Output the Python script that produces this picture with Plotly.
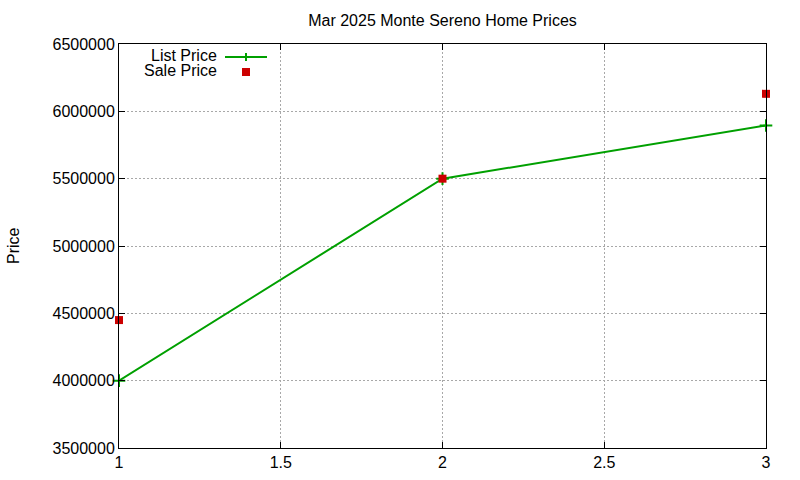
import plotly.graph_objects as go

# Data
months = [1, 2, 3]
list_price = [4000000, 5500000, 5895000]
sale_price = [4450000, 5500000, 6130000]
x_ticks = [1, 1.5, 2, 2.5, 3]
y_ticks = [3500000, 4000000, 4500000, 5000000, 5500000, 6000000, 6500000]

title_text = "Mar 2025 Monte Sereno Home Prices"
green = "#00a000"
red = "#cc0000"
FONT = "Liberation Sans, Arial, sans-serif"
FS = 16

W, H = 800, 480
L, R, T, B = 119, 800 - 766, 44, 480 - 448
pw, ph = W - L - R, H - T - B


def px(x):
    """window pixel x -> paper x"""
    return (x - L) / pw


def py(y):
    """window pixel y -> paper y"""
    return (H - B - y) / ph


fig = go.Figure()
fig.add_trace(go.Scatter(
    x=months, y=list_price, mode="lines+markers", name="List Price",
    line=dict(color=green, width=2),
    marker=dict(symbol="cross-thin", size=9, line=dict(color=green, width=2)),
    cliponaxis=False, showlegend=False,
))
fig.add_trace(go.Scatter(
    x=months, y=sale_price, mode="markers", name="Sale Price",
    marker=dict(symbol="square", size=8, color=red),
    cliponaxis=False, showlegend=False,
))

axis_common = dict(
    showline=True, linecolor="black", linewidth=1, mirror="ticks",
    ticks="inside", ticklen=6, tickcolor="black", tickwidth=1,
    showgrid=True, gridcolor="#a8a8a8", griddash="2px,2px", gridwidth=1,
    zeroline=False, tickfont=dict(family=FONT, size=FS, color="black"),
    automargin=False,
)

fig.update_xaxes(range=[1, 3], tickvals=x_ticks, ticktext=[str(v) for v in x_ticks], **axis_common)
fig.update_yaxes(range=[3500000, 6500000], tickvals=y_ticks, ticktext=[str(v) for v in y_ticks],
                 **axis_common)

shapes = [
    dict(type="line", xref="paper", yref="paper", x0=px(225), x1=px(267), y0=py(57), y1=py(57),
         line=dict(color=green, width=2)),
    dict(type="line", xref="paper", yref="paper", x0=px(246), x1=px(246), y0=py(53), y1=py(61),
         line=dict(color=green, width=2)),
    dict(type="rect", xref="paper", yref="paper", x0=px(242), x1=px(250), y0=py(76), y1=py(68),
         fillcolor=red, line=dict(width=0)),
]

annotations = [
    dict(text="List Price", xref="paper", yref="paper", x=px(218), y=py(55), xanchor="right",
         yanchor="middle", showarrow=False, borderpad=0,
         font=dict(family=FONT, size=FS, color="black")),
    dict(text="Sale Price", xref="paper", yref="paper", x=px(218), y=py(70.5), xanchor="right",
         yanchor="middle", showarrow=False, borderpad=0,
         font=dict(family=FONT, size=FS, color="black")),
    dict(text="Price", xref="paper", yref="paper", x=px(13), y=py(246), xanchor="center",
         yanchor="middle", textangle=-90, showarrow=False, borderpad=0,
         font=dict(family=FONT, size=FS, color="black")),
]

fig.update_layout(
    width=W, height=H,
    margin=dict(l=L, r=R, t=T, b=B, autoexpand=False),
    paper_bgcolor="white", plot_bgcolor="white",
    title=dict(text=title_text, x=(L + pw / 2) / W, xanchor="center", y=1 - 20 / H,
               yanchor="middle", font=dict(family=FONT, size=FS, color="black")),
    shapes=shapes, annotations=annotations,
    showlegend=False,
)

fig.write_html(
    "out.html",
    config={"displayModeBar": False},
    post_script="document.body.style.margin='0';document.body.style.overflow='hidden';",
)
